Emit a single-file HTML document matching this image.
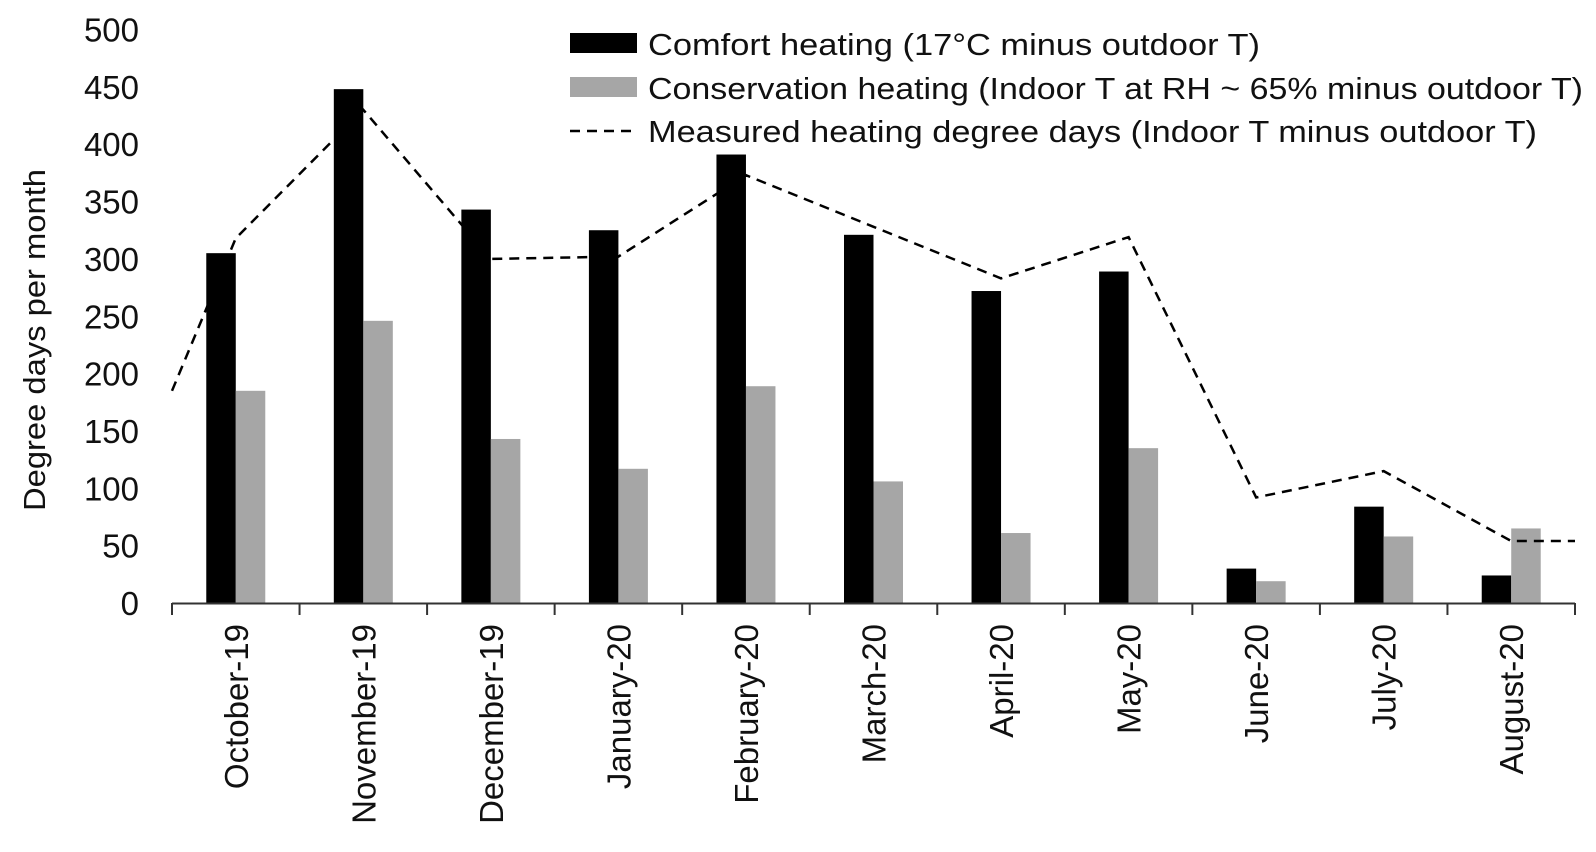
<!DOCTYPE html>
<html><head><meta charset="utf-8"><style>
html,body{margin:0;padding:0;background:#fff;}
svg{display:block;font-family:"Liberation Sans",sans-serif;}
</style></head><body>
<svg id="chart" width="1596" height="852" viewBox="0 0 1596 852" xmlns="http://www.w3.org/2000/svg"></svg>
<script>
const categories = ["October-19","November-19","December-19","January-20","February-20","March-20","April-20","May-20","June-20","July-20","August-20"];
const comfortValues = [305, 448, 343, 325, 391, 321, 272, 289, 30, 84, 24];
const conservationValues = [185, 246, 143, 117, 189, 106, 61, 135, 19, 58, 65];
const measuredValues = [318, 430, 300, 302, 373, 328, 283, 319, 92, 115, 54];
const measuredStart = [185];
const measuredEnd = [54];
const yTicks = [0, 50, 100, 150, 200, 250, 300, 350, 400, 450, 500];

const NS = "http://www.w3.org/2000/svg";
const svg = document.getElementById("chart");
const X0 = 172, X1 = 1575, Y0 = 603, YMAX = 500, YTOP = 29.5;
const band = (X1 - X0) / categories.length;
const barW = 29.5;
function xC(i){ return X0 + band * (i + 0.5); }
function yS(v){ return Y0 - (Y0 - YTOP) * v / YMAX; }
function mk(tag, attrs, parent){
  const e = document.createElementNS(NS, tag);
  for (const k in attrs) e.setAttribute(k, attrs[k]);
  (parent || svg).appendChild(e);
  return e;
}

yTicks.forEach(v => {
  const t = mk("text", {x: 139, y: yS(v) + 12, "text-anchor": "end", "font-size": 33, fill: "#111"});
  
  
  t.textContent = v;
});
const yt = mk("text", {x: 0, y: 0, transform: "translate(45,340) rotate(-90)", "text-anchor": "middle", "font-size": 31, fill: "#111", textLength: 342, lengthAdjust: "spacingAndGlyphs"});


yt.textContent = "Degree days per month";

categories.forEach((c, i) => {
  const b1 = mk("rect", {x: xC(i) - barW, y: yS(comfortValues[i]), width: barW, height: Y0 - yS(comfortValues[i]), fill: "#000"});
  
  
  const b2 = mk("rect", {x: xC(i), y: yS(conservationValues[i]), width: barW, height: Y0 - yS(conservationValues[i]), fill: "#a6a6a6"});
  
  
});

const ax = mk("line", {x1: X0, y1: Y0 + 0.5, x2: X1, y2: Y0 + 0.5, stroke: "#333", "stroke-width": 2});


for (let i = 0; i <= categories.length; i++) {
  const x = X0 + band * i;
  const tk = mk("line", {x1: x, y1: Y0, x2: x, y2: Y0 + 12, stroke: "#333", "stroke-width": 2});
  
  
}
categories.forEach((c, i) => {
  const t = mk("text", {x: 0, y: 0, transform: `translate(${xC(i) + 12},624) rotate(-90)`, "text-anchor": "end", "font-size": 33, fill: "#111"});
  
  
  t.textContent = c;
});

const pts = [[X0, yS(measuredStart[0])]];
measuredValues.forEach((v, i) => pts.push([xC(i), yS(v)]));
pts.push([X1, yS(measuredEnd[0])]);
const pl = mk("polyline", {points: pts.map(p => p.join(",")).join(" "), fill: "none", stroke: "#000", "stroke-width": 2.5, "stroke-dasharray": "10,7"});



const lg = mk("g", {});


const s1 = mk("rect", {x: 570, y: 33, width: 67, height: 20, fill: "#000"}, lg);


const s2 = mk("rect", {x: 570, y: 77, width: 67, height: 20, fill: "#a6a6a6"}, lg);


const s3 = mk("line", {x1: 570, y1: 131, x2: 637, y2: 131, stroke: "#000", "stroke-width": 2.5, "stroke-dasharray": "10,7"}, lg);


const legendTexts = [
  ["Comfort heating (17°C minus outdoor T)", 55, 612],
  ["Conservation heating (Indoor T at RH ~ 65% minus outdoor T)", 99, 935],
  ["Measured heating degree days (Indoor T minus outdoor T)", 142, 889]
];
legendTexts.forEach(l => {
  const t = mk("text", {x: 648, y: l[1], "font-size": 31, fill: "#111", textLength: l[2], lengthAdjust: "spacingAndGlyphs"}, lg);
  
  
  t.textContent = l[0];
});
</script>
</body></html>
